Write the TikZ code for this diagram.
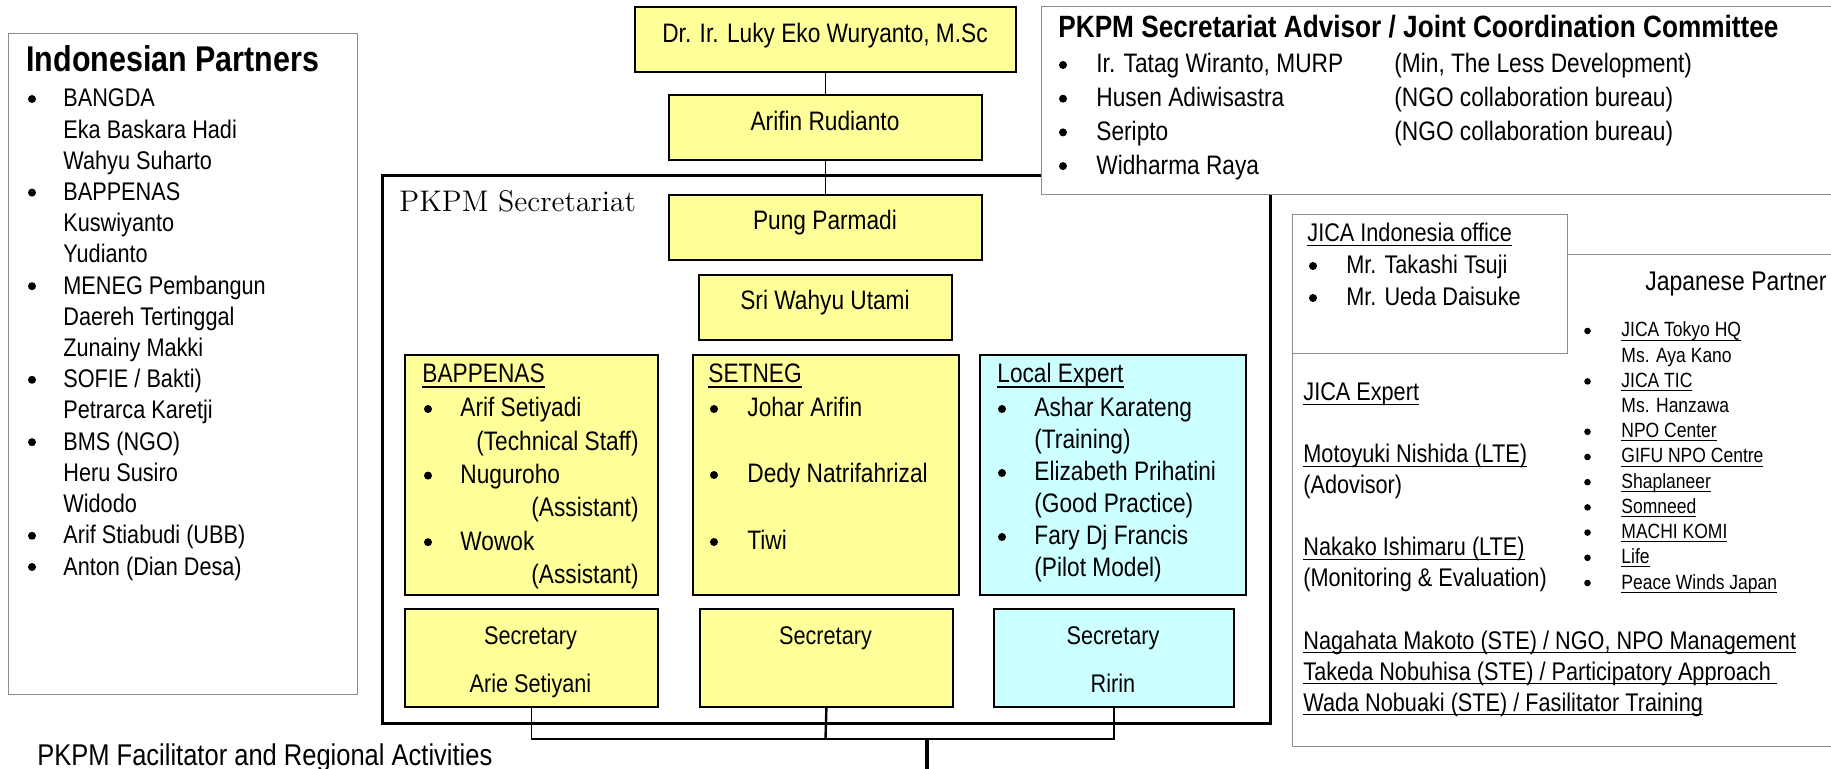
\documentclass[tikz,border=0pt]{standalone}
\usepackage{fontspec}
\usepackage{tikz}
\usetikzlibrary{positioning}
\newfontfamily\narrowsans[FakeStretch=0.85]{Liberation Sans}
\definecolor{boxYellow}{RGB}{255, 255, 153}
\definecolor{boxCyan}{RGB}{204, 255, 255}
\definecolor{frameGray}{RGB}{140, 140, 140}
\newsavebox\ulbox
\newcommand\uln[2][0.6pt]{\sbox\ulbox{#2}\rlap{\rule[\dimexpr-1.3pt-#1\relax]{\wd\ulbox}{#1}}\usebox\ulbox}

\begin{document}
\begin{tikzpicture}[x=0.5pt, y=-0.5pt,
  box/.style={draw, line width=0.9pt, anchor=north west, inner sep=0pt},
  ybox/.style={box, fill=boxYellow},
  cbox/.style={box, fill=boxCyan},
  gbox/.style={draw=frameGray, line width=0.7pt, fill=white, anchor=north west, inner sep=0pt},
  txtA/.style={inner sep=0pt, anchor=base west, font=\narrowsans\fontsize{13.35}{16}\selectfont},
  txtB/.style={inner sep=0pt, anchor=base west, font=\narrowsans\fontsize{12.75}{15}\selectfont},
  txtJ/.style={inner sep=0pt, anchor=base west, font=\narrowsans\fontsize{10.3}{12}\selectfont},
  head/.style={inner sep=0pt, anchor=base west, font=\narrowsans\bfseries\fontsize{#1}{20}\selectfont},
  dot/.style={circle, fill, inner sep=0pt, minimum size=#1},
  dot/.default=4pt,
  link/.style={line width=0.8pt},
  linkThin/.style={line width=0.6pt},
  linkThick/.style={line width=1.2pt},
  linkHeavy/.style={line width=1.6pt}]
  \def\u{0.5pt}
  \path[use as bounding box, fill=white] (0,0) rectangle (1831,769);

  % Indonesian partners
  \node[gbox, minimum width=349*\u, minimum height=661*\u] (indo) at (8,33) {};
  \node[head=17.9] (indoT) at (26,72) {Indonesian Partners};
  \foreach \i/\b/\lab in {0/1/BANGDA, 1/0/Eka Baskara Hadi, 2/0/Wahyu Suharto,
      3/1/BAPPENAS, 4/0/Kuswiyanto, 5/0/Yudianto, 6/1/MENEG Pembangun,
      7/0/Daereh Tertinggal, 8/0/Zunainy Makki, 9/1/{SOFIE / Bakti)},
      10/0/Petrarca Karetji, 11/1/BMS (NGO), 12/0/Heru Susiro, 13/0/Widodo,
      14/1/Arif Stiabudi (UBB), 15/1/Anton (Dian Desa)} {
    \pgfmathsetmacro\y{107+31.2*\i}
    \node[txtB] (ip\i) at (63,\y) {\lab};
    \ifnum\b=1 \node[dot] (ipb\i) at (32,\y-8) {}; \fi
  }
  \node[inner sep=0pt, anchor=base west, font=\narrowsans\fontsize{15}{18}\selectfont]
    (fac) at (37,765) {PKPM Facilitator and Regional Activities};

  % Secretariat frame and the chain on top
  \node[box, line width=1.7pt, minimum width=888*\u, minimum height=548*\u] (sec) at (381,174) {};
  \node[inner sep=0pt, anchor=base west, font=\rmfamily\fontsize{14.9}{17}\selectfont]
    (secT) at (399,212) {PKPM Secretariat};
  \node[ybox, minimum width=381*\u, minimum height=65*\u] (luky) at (634,6) {};
  \node[ybox, minimum width=313*\u, minimum height=65*\u] (arifin) at (668,94) {};
  \node[ybox, minimum width=313*\u, minimum height=65*\u] (pung) at (668,194) {};
  \node[ybox, minimum width=253*\u, minimum height=65*\u] (sri) at (698,274) {};
  \node[txtA, anchor=base] (lukyT) at (825,43) {Dr. Ir. Luky Eko Wuryanto, M.Sc};
  \node[txtA, anchor=base] (arifinT) at (825,131) {Arifin Rudianto};
  \node[txtA, anchor=base] (pungT) at (825,230) {Pung Parmadi};
  \node[txtA, anchor=base] (sriT) at (825,310) {Sri Wahyu Utami};
  \draw[link] (luky.south) -- (arifin.north);
  \draw[link] (arifin.south) -- (pung.north);

  % Advisor / JCC
  \node[gbox, minimum width=799*\u, minimum height=188*\u] (adv) at (1041,6) {};
  \node[head=15.4] (advT) at (1058,38) {PKPM Secretariat Advisor / Joint Coordination Committee};
  \foreach \i/\who/\what in {0/{Ir. Tatag Wiranto, MURP}/{(Min, The Less Development)},
      1/Husen Adiwisastra/(NGO collaboration bureau), 2/Seripto/(NGO collaboration bureau),
      3/Widharma Raya/{}} {
    \pgfmathsetmacro\y{73+33.7*\i}
    \node[dot] (advb\i) at (1063,\y-8) {};
    \node[txtA] (adv\i) at (1096,\y) {\who};
    \node[txtA] (advw\i) at (1394,\y) {\what};
  }

  % BAPPENAS
  \node[ybox, minimum width=253*\u, minimum height=240*\u] (bap) at (404,354) {};
  \node[txtA] (bapT) at (422,383) {\uln[1.15pt]{BAPPENAS}};
  \foreach \i/\b/\lab in {0/1/Arif Setiyadi, 1/0/(Technical Staff), 2/1/Nuguroho,
      3/0/(Assistant), 4/1/Wowok, 5/0/(Assistant)} {
    \pgfmathsetmacro\y{417+33.3*\i}
    \ifnum\b=1
      \node[dot] (bapb\i) at (428,\y-8) {};
      \node[txtA] (bap\i) at (460,\y) {\lab};
    \else
      \node[txtA, anchor=base east] (bap\i) at (639,\y) {\lab};
    \fi
  }

  % SETNEG
  \node[ybox, minimum width=266*\u, minimum height=240*\u] (set) at (692,354) {};
  \node[txtA] (setT) at (708,383) {\uln[1.15pt]{SETNEG}};
  \foreach \i/\y/\lab in {0/417/Johar Arifin, 1/483/Dedy Natrifahrizal, 2/550/Tiwi} {
    \node[dot] (setb\i) at (714,\y-8) {};
    \node[txtA] (set\i) at (747,\y) {\lab};
  }

  % Local expert
  \node[cbox, minimum width=266*\u, minimum height=240*\u] (loc) at (979,354) {};
  \node[txtA] (locT) at (997,383) {\uln[1.15pt]{Local Expert}};
  \foreach \i/\b/\lab in {0/1/Ashar Karateng, 1/0/(Training), 2/1/Elizabeth Prihatini,
      3/0/(Good Practice), 4/1/Fary Dj Francis, 5/0/(Pilot Model)} {
    \pgfmathsetmacro\y{417+32*\i}
    \node[txtA] (loc\i) at (1034,\y) {\lab};
    \ifnum\b=1 \node[dot] (locb\i) at (1002,\y-8) {}; \fi
  }

  % Secretaries
  \node[ybox, minimum width=253*\u, minimum height=98*\u] (secL) at (404,608) {};
  \node[ybox, minimum width=253*\u, minimum height=98*\u] (secM) at (699,608) {};
  \node[cbox, minimum width=240*\u, minimum height=98*\u] (secR) at (993,608) {};
  \node[txtB, anchor=base] (secLT) at (530.5,645) {Secretary};
  \node[txtB, anchor=base] (secLN) at (530.5,692) {Arie Setiyani};
  \node[txtB, anchor=base] (secMT) at (825.5,645) {Secretary};
  \node[txtB, anchor=base] (secRT) at (1113,645) {Secretary};
  \node[txtB, anchor=base] (secRN) at (1113,692) {Ririn};

  % Links down to the regional activities
  \coordinate (jn) at (825.5,739);
  \coordinate (dn) at (927,739);
  \coordinate (facEnd) at (927,775);
  \draw[linkThin] (secL.south) |- (jn);
  \draw[linkThick] (secM.south) -- (jn);
  \draw[linkThick] (secR.south) |- (jn);
  \draw[linkHeavy] (dn) -- (facEnd);

  % JICA side
  \node[gbox, minimum width=548*\u, minimum height=492*\u] (jica) at (1292,254) {};
  \node[gbox, minimum width=275*\u, minimum height=139*\u] (jio) at (1292,214) {};
  \node[txtB] (jioT) at (1307,242) {\uln{JICA Indonesia office}};
  \foreach \i/\y/\lab in {0/274/Mr. Takashi Tsuji, 1/306/Mr. Ueda Daisuke} {
    \node[dot] (jiob\i) at (1313,\y-8) {};
    \node[txtB] (jio\i) at (1346,\y) {\lab};
  }
  \foreach \i/\f/\lab in {0/1/JICA Expert, 2/1/Motoyuki Nishida (LTE), 3/0/(Adovisor),
      5/1/Nakako Ishimaru (LTE), 6/0/(Monitoring \& Evaluation),
      8/1/{Nagahata Makoto (STE) / NGO, NPO Management},
      9/1/{Takeda Nobuhisa (STE) / Participatory Approach\ },
      10/1/{Wada Nobuaki (STE) / Fasilitator Training}} {
    \pgfmathsetmacro\y{401+31*\i}
    \node[txtB] (je\i) at (1303,\y) {\ifnum\f=1 \uln{\lab}\else\lab\fi};
  }
  \node[txtA, font=\narrowsans\fontsize{13.5}{16}\selectfont] (jpT) at (1645,291) {Japanese Partner};
  \foreach \i/\b/\lab in {0/1/JICA Tokyo HQ, 1/0/Ms. Aya Kano, 2/1/JICA TIC, 3/0/Ms. Hanzawa,
      4/1/NPO Center, 5/1/GIFU NPO Centre, 6/1/Shaplaneer, 7/1/Somneed,
      8/1/MACHI KOMI, 9/1/Life, 10/1/Peace Winds Japan} {
    \pgfmathsetmacro\y{337+25.2*\i}
    \ifnum\b=1
      \node[dot=3.3pt] (jpb\i) at (1587.5,\y-6) {};
      \node[txtJ] (jp\i) at (1621,\y) {\uln[0.5pt]{\lab}};
    \else
      \node[txtJ] (jp\i) at (1621,\y) {\lab};
    \fi
  }
\end{tikzpicture}
\end{document}
